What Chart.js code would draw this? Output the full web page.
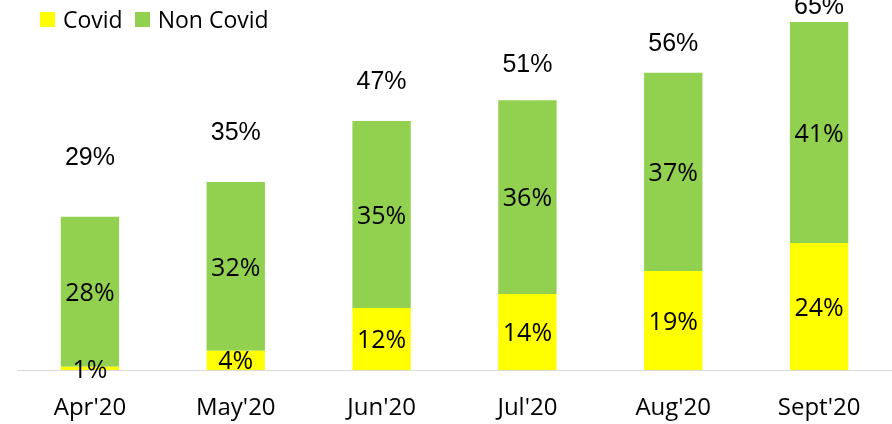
<!DOCTYPE html>
<html>
<head>
<meta charset="utf-8">
<script src="https://cdn.jsdelivr.net/npm/chart.js@4.4.1/dist/chart.umd.min.js"></script>
<style>
  html, body { margin: 0; padding: 0; background: #fff; }
  #wrap { position: relative; width: 892px; height: 424px; }
  #legend { position: absolute; left: 40px; top: 3px; font: 23px "Open Sans", sans-serif; color: #000; display: flex; align-items: center; }
  .box { display: inline-block; width: 15px; height: 15px; margin-right: 8px; }
</style>
</head>
<body>
<div id="wrap">
  <canvas id="chart" width="892" height="424"></canvas>
  <div id="legend">
    <span class="box" style="background:#FFFF00"></span><span>Covid</span>
    <span class="box" style="background:#92D050;margin-left:12px"></span><span>Non Covid</span>
  </div>
</div>
<script>
const months = ["Apr'20", "May'20", "Jun'20", "Jul'20", "Aug'20", "Sept'20"];
// bar heights (labels are these rounded)
const covid = [0.6, 3.6, 11.6, 14.2, 18.5, 23.7];
const nonCovid = [28.0, 31.5, 34.9, 36.2, 37.0, 41.3];
const totals = [29, 35, 47, 51, 56, 65];

const barLabels = {
  id: 'barLabels',
  afterDatasetsDraw(chart) {
    const ctx = chart.ctx;
    ctx.save();
    ctx.fillStyle = '#000';
    ctx.textAlign = 'center';
    ctx.textBaseline = 'middle';
    chart.data.datasets.forEach((ds, i) => {
      const meta = chart.getDatasetMeta(i);
      meta.data.forEach((el, j) => {
        if (ds.type === 'line') {
          ctx.font = '25px "Liberation Sans", Arial, sans-serif';
          ctx.fillText(totals[j] + '%', el.x, el.y);
        } else {
          ctx.font = '25px "Open Sans", sans-serif';
          const y = (el.y + el.base) / 2;
          ctx.fillText(Math.round(ds.data[j]) + '%', el.x, y + 2);
        }
      });
    });
    ctx.restore();
  }
};

new Chart(document.getElementById('chart'), {
  type: 'bar',
  data: {
    labels: months,
    datasets: [
      { label: 'Covid', data: covid, backgroundColor: '#FFFF00', borderWidth: 0 },
      { label: 'Non Covid', data: nonCovid, backgroundColor: '#92D050', borderWidth: 0 },
      { type: 'line', label: 'Total', data: totals, yAxisID: 'y2', showLine: false, pointRadius: 0 }
    ]
  },
  options: {
    responsive: false,
    animation: false,
    barPercentage: 0.4,
    categoryPercentage: 1,
    layout: { padding: { left: 17, right: -3, top: 0, bottom: 0 } },
    plugins: { legend: { display: false }, tooltip: { enabled: false } },
    scales: {
      x: {
        stacked: true,
        grid: { display: false, drawTicks: false },
        border: { display: true, color: '#d9d9d9', width: 1 },
        ticks: { color: '#000', padding: 24, font: { family: 'Open Sans', size: 24 } },
        afterFit(scale) { scale.height = 54; }
      },
      y: { stacked: true, display: false, min: 0, max: 69.1 },
      y2: { display: false, min: -21.5, max: 66.6 }
    }
  },
  plugins: [barLabels]
});
</script>
</body>
</html>
